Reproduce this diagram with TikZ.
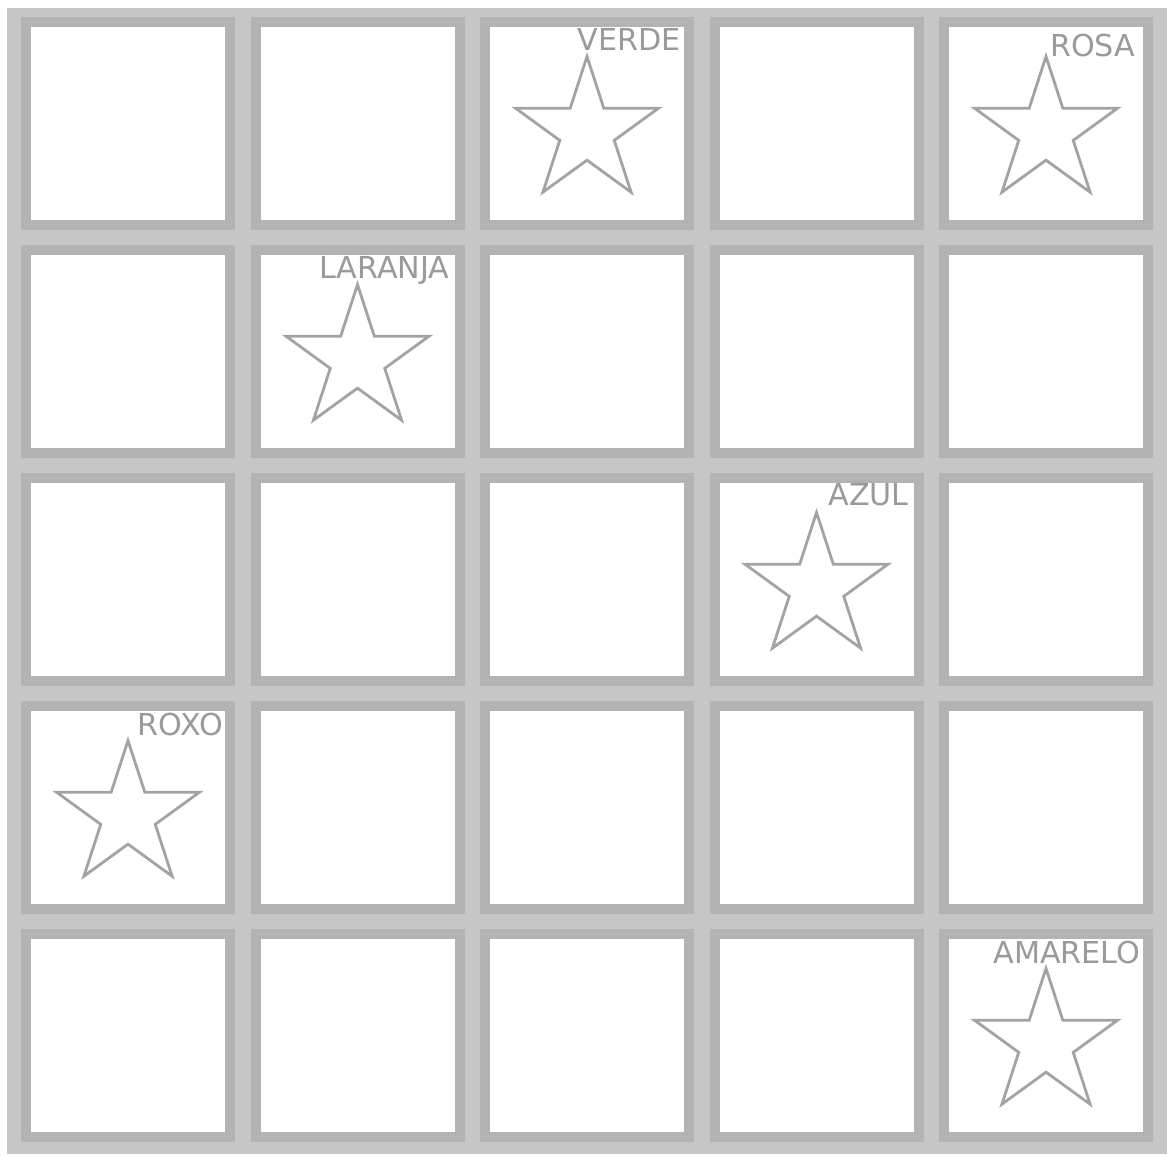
\documentclass[tikz,border=0pt]{standalone}
\usepackage{fontspec}
\setmainfont{DejaVu Sans}
\definecolor{bgray}{HTML}{C6C6C6}
\definecolor{cgray}{HTML}{B3B3B3}
\definecolor{sgray}{HTML}{A3A3A3}
\definecolor{tgray}{HTML}{9A9A9A}
\tikzset{
  cellbox/.style={draw=cgray, line width=10pt, fill=white},
  starline/.style={draw=sgray, line width=2.8pt, line join=miter, fill=white},
  lbl/.style={text=tgray, inner sep=0pt, font=\fontsize{30.2}{31}\selectfont},
  starpic/.pic={\draw[starline] (270:75) -- (306:28.65) -- (342:75) -- (18:28.65) -- (54:75) -- (90:28.65) -- (126:75) -- (162:28.65) -- (198:75) -- (234:28.65) -- cycle;}
}
\begin{document}
\begin{tikzpicture}[x=1pt,y=-1pt]
\useasboundingbox (0,0) rectangle (1167,1154);
\fill[white] (0,0) rectangle (1167,1154);
\fill[bgray] (7,8) rectangle (1167,1154);
\foreach \i in {0,...,4}{
  \foreach \j in {0,...,4}{
    \draw[cellbox] ({26+229.5*\i},{22+228*\j}) rectangle ++(204,203);
  }
}
% stars: centre x = 128 + 229.5*col, centre y = 131.5 + 228*row
\pic at (587,131.5) {starpic};
\pic at (1046,131.5) {starpic};
\pic at (357.5,359.5) {starpic};
\pic at (816.5,587.5) {starpic};
\pic at (128,815.5) {starpic};
\pic at (1046,1043.5) {starpic};
\node[lbl, anchor=base east] (verde) at (681,50.5) {VERDE};
\node[lbl, anchor=base east] (rosa) at (1135.5,56.5) {ROSA};
\node[lbl, anchor=base east] (laranja) at (449.5,278.5) {LARANJA};
\node[lbl, anchor=base east] (azul) at (909,505.5) {AZUL};
\node[lbl, anchor=base east] (roxo) at (223,735.5) {ROXO};
\node[lbl, anchor=base east] (amarelo) at (1140.5,963.5) {AMARELO};
\end{tikzpicture}
\end{document}
